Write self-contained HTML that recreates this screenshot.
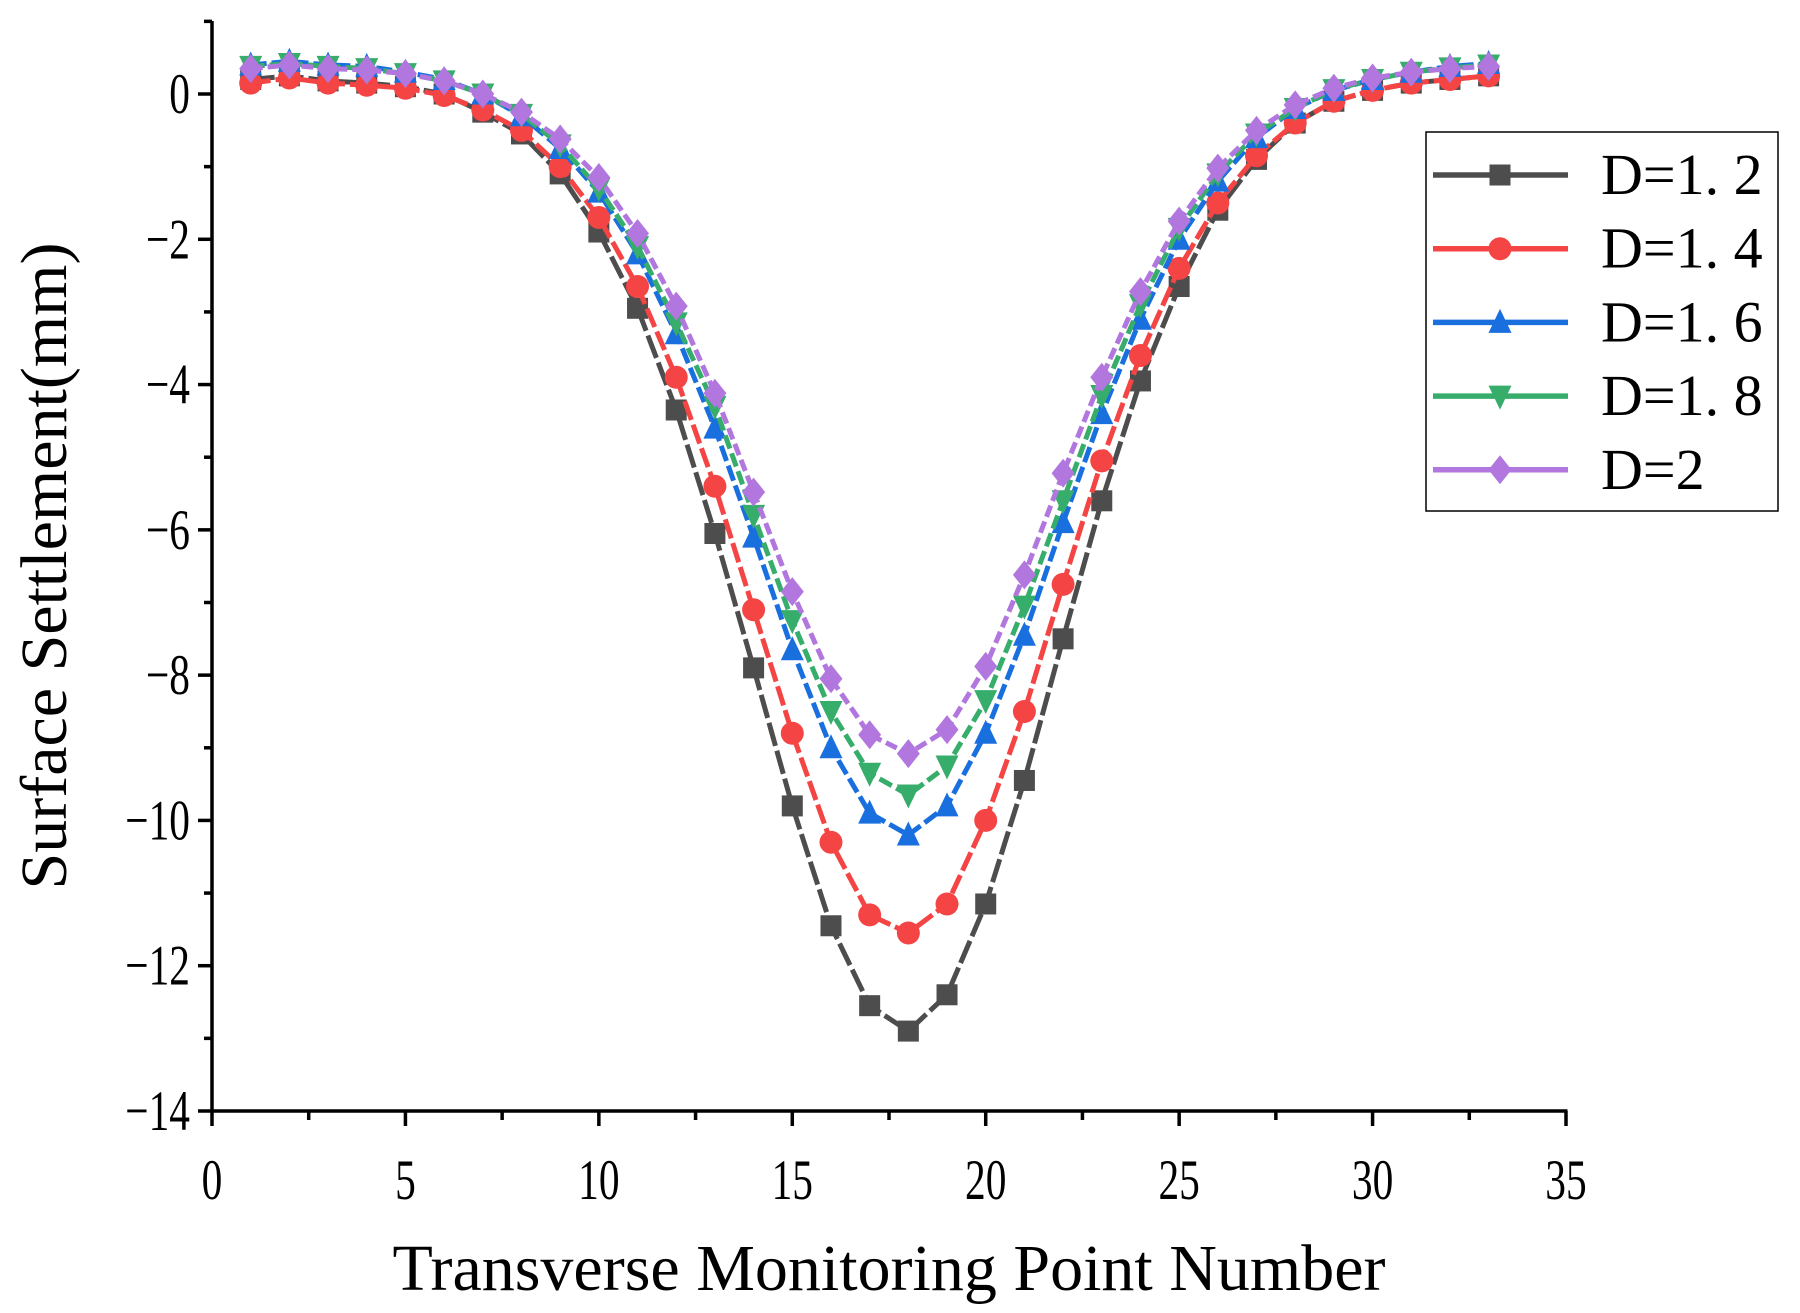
<!DOCTYPE html>
<html><head><meta charset="utf-8"><style>
html,body{margin:0;padding:0;background:#fff;}
svg{display:block;}
text{font-family:"Liberation Serif","Noto Serif CJK SC",serif;fill:#000;}
</style></head><body>
<svg id="chart" width="1800" height="1313" viewBox="0 0 1800 1313" xmlns="http://www.w3.org/2000/svg">
<g id="axes"></g>
<g id="series"></g>
<g id="legend"></g>
<text x="889" y="1290" font-size="66" text-anchor="middle">Transverse Monitoring Point Number</text>
<text transform="translate(66,566) rotate(-90)" font-size="66" text-anchor="middle">Surface Settlement(mm)</text>
</svg>
<script>
const xPoints = [1,2,3,4,5,6,7,8,9,10,11,12,13,14,15,16,17,18,19,20,21,22,23,24,25,26,27,28,29,30,31,32,33];
const seriesD12 = [0.2,0.25,0.18,0.15,0.1,0,-0.25,-0.55,-1.1,-1.9,-2.95,-4.35,-6.05,-7.9,-9.8,-11.45,-12.55,-12.9,-12.4,-11.15,-9.45,-7.5,-5.6,-3.95,-2.65,-1.6,-0.9,-0.4,-0.1,0.05,0.15,0.2,0.25];
const seriesD14 = [0.15,0.22,0.15,0.12,0.08,-0.02,-0.22,-0.5,-1.0,-1.7,-2.65,-3.9,-5.4,-7.1,-8.8,-10.3,-11.3,-11.55,-11.15,-10.0,-8.5,-6.75,-5.05,-3.6,-2.4,-1.5,-0.85,-0.4,-0.1,0.05,0.15,0.2,0.25];
const seriesD16 = [0.4,0.45,0.4,0.38,0.3,0.2,0.0,-0.3,-0.75,-1.35,-2.2,-3.3,-4.6,-6.1,-7.65,-9.0,-9.9,-10.2,-9.8,-8.8,-7.45,-5.9,-4.4,-3.1,-2.0,-1.2,-0.6,-0.2,0.05,0.2,0.3,0.38,0.42];
const seriesD18 = [0.38,0.42,0.38,0.35,0.28,0.18,0.0,-0.28,-0.7,-1.3,-2.1,-3.15,-4.3,-5.8,-7.25,-8.5,-9.35,-9.65,-9.25,-8.35,-7.05,-5.6,-4.15,-2.9,-1.85,-1.1,-0.55,-0.2,0.06,0.2,0.3,0.36,0.4];
const seriesD2 = [0.35,0.4,0.35,0.33,0.28,0.18,0.0,-0.25,-0.62,-1.15,-1.92,-2.92,-4.12,-5.48,-6.85,-8.05,-8.82,-9.08,-8.75,-7.88,-6.62,-5.22,-3.9,-2.72,-1.75,-1.02,-0.5,-0.15,0.08,0.22,0.3,0.35,0.38];
const legendLabels = ["D=1. 2","D=1. 4","D=1. 6","D=1. 8","D=2"];
const xTicks = [0,5,10,15,20,25,30,35];
const yTicks = [0,-2,-4,-6,-8,-10,-12,-14];

const NS="http://www.w3.org/2000/svg";
const X0=212,X1=1566,Y0=94,Y14=1111,YTOP=21;
const xs=v=>X0+(v/35)*(X1-X0);
const ys=v=>Y0+(-v/14)*(Y14-Y0);
function mk(tag,attrs,parent){const e=document.createElementNS(NS,tag);for(const k in attrs)e.setAttribute(k,attrs[k]);parent.appendChild(e);return e;}
const axes=document.getElementById('axes');
let e;
e=mk('line',{x1:X0,y1:YTOP,x2:X0,y2:Y14,stroke:'#000','stroke-width':3.5},axes);


e=mk('line',{x1:X0-1.5,y1:Y14,x2:X1+1.5,y2:Y14,stroke:'#000','stroke-width':3.5},axes);


for(let v=1;v>=-14;v--){const maj=(v%2===0);
  e=mk('line',{x1:X0-(maj?14:8),y1:ys(v),x2:X0,y2:ys(v),stroke:'#000','stroke-width':3.5},axes);
  
  }
yTicks.forEach(v=>{const y=ys(v);e=mk('text',{x:0,y:0,'font-size':46,'text-anchor':'end',transform:`translate(${X0-22},${y+19}) scale(0.9,1.25)`},axes);e.textContent=(v<0?'\u2212'+(-v):String(v));
  
  });
for(let v=0;v<=35;v+=2.5){const maj=(v%5===0);
  e=mk('line',{x1:xs(v),y1:Y14,x2:xs(v),y2:Y14+(maj?15:9),stroke:'#000','stroke-width':3.5},axes);
  
  }
xTicks.forEach(v=>{e=mk('text',{x:0,y:0,'font-size':46,'text-anchor':'middle',transform:`translate(${xs(v)},${Y14+88}) scale(0.9,1.25)`},axes);e.textContent=String(v);
  
  });

const allSeries=[seriesD12,seriesD14,seriesD16,seriesD18,seriesD2];
const colors=['#4d4d4d','#f44444','#1a6fdf','#37ad6b','#b177de'];
const dashes=['24,5','20,5','16,5','14,5','12,5'];
const shapes=['square','circle','triUp','triDown','diamond'];
const names=['d-1-2','d-1-4','d-1-6','d-1-8','d-2'];
function marker(shape,cx,cy,color,parent){const s=10.5;let m;
  if(shape==='square')m=mk('rect',{x:cx-s,y:cy-s,width:2*s,height:2*s,fill:color},parent);
  else if(shape==='circle')m=mk('circle',{cx:cx,cy:cy,r:s+1,fill:color},parent);
  else if(shape==='triUp')m=mk('polygon',{points:`${cx},${cy-s-3} ${cx-s-1},${cy+s} ${cx+s+1},${cy+s}`,fill:color},parent);
  else if(shape==='triDown')m=mk('polygon',{points:`${cx},${cy+s+3} ${cx-s-1},${cy-s} ${cx+s+1},${cy-s}`,fill:color},parent);
  else m=mk('polygon',{points:`${cx},${cy-s-4} ${cx+s+1},${cy} ${cx},${cy+s+4} ${cx-s-1},${cy}`,fill:color},parent);
  return m;}
const sg=document.getElementById('series');
allSeries.forEach((vals,i)=>{
  const g=mk('g',{},sg);
  
  
  const pts=vals.map((v,j)=>xs(xPoints[j])+','+ys(v)).join(' ');
  const pl=mk('polyline',{points:pts,fill:'none',stroke:colors[i],'stroke-width':5,'stroke-dasharray':dashes[i]},g);
  
  
  vals.forEach((v,j)=>{const m=marker(shapes[i],xs(xPoints[j]),ys(v),colors[i],g);
    
    });
});
const lg=document.getElementById('legend');
e=mk('rect',{x:1426,y:132,width:352,height:379,fill:'#fff',stroke:'#000','stroke-width':1.5},lg);


legendLabels.forEach((lab,i)=>{const y=175+i*73.7;
  const g=mk('g',{},lg);
  
  
  mk('line',{x1:1433,y1:y,x2:1568,y2:y,stroke:colors[i],'stroke-width':5.5},g);
  marker(shapes[i],1500,y,colors[i],g);
  const t=mk('text',{x:1601,y:y+19,'font-size':58},g);t.textContent=lab;});
</script>
</body></html>
